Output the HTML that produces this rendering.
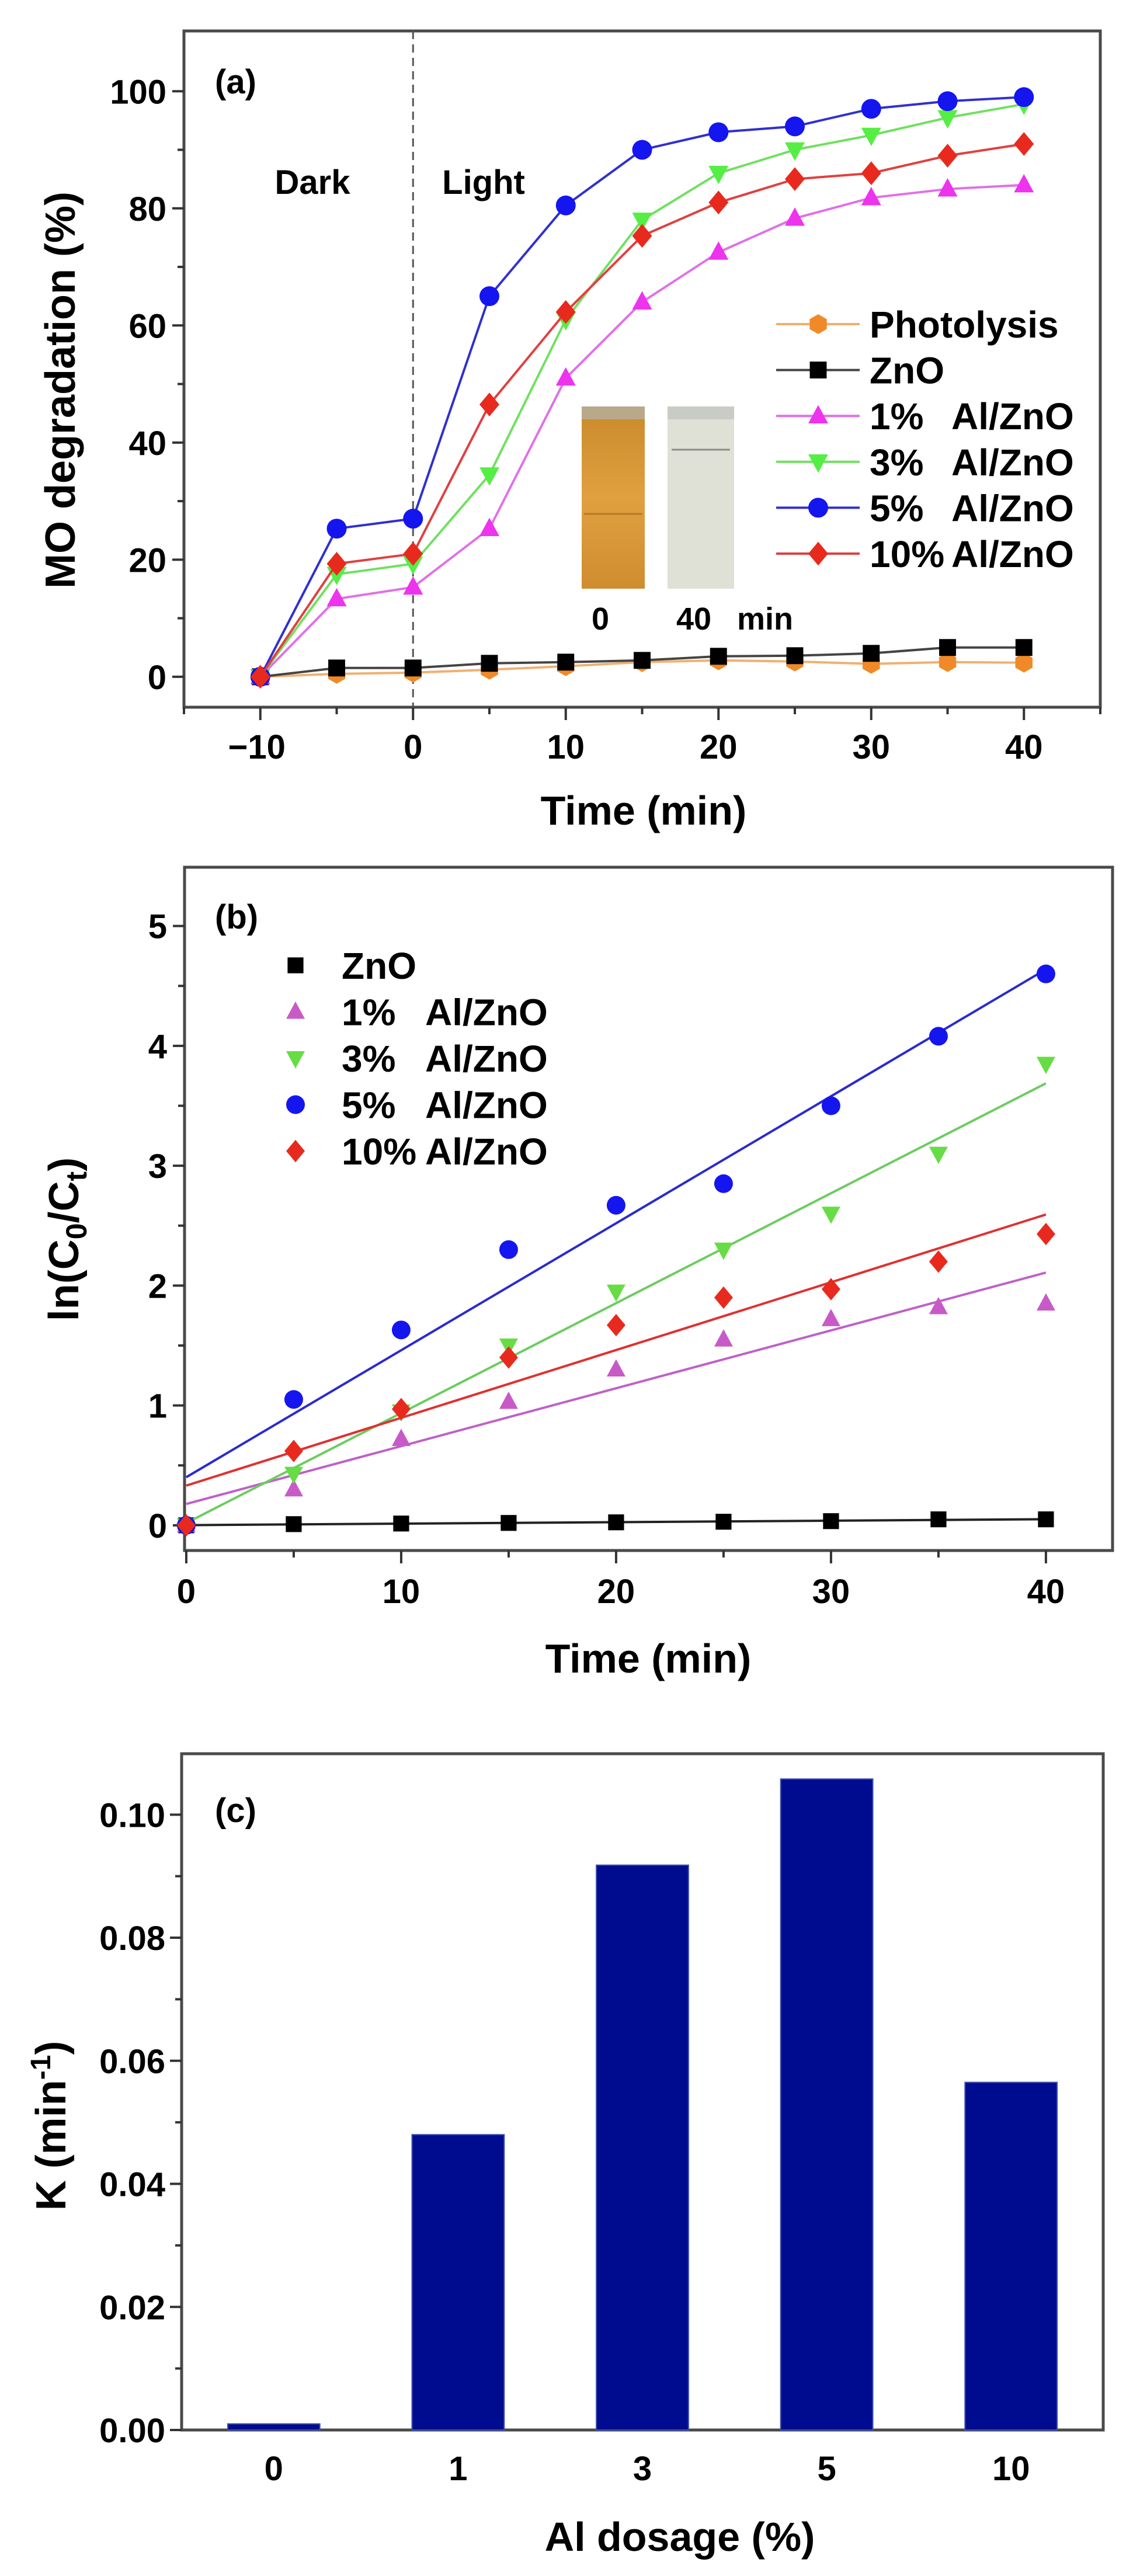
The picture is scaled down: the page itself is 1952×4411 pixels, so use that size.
<!DOCTYPE html>
<html><head><meta charset="utf-8"><title>Photocatalytic degradation</title>
<style>
html,body{margin:0;padding:0;background:#fff;}
svg{display:block;font-family:"Liberation Sans",Arial,sans-serif;font-weight:bold;}
</style></head>
<body>
<svg id="fig" width="1952" height="4411" viewBox="0 0 1952 4411" xmlns="http://www.w3.org/2000/svg">
<rect x="0" y="0" width="1952" height="4411" fill="#fff"/>
<g id="pa"></g>
<g id="pb"></g>
<g id="pc"></g>
</svg>
<script>
// ---------- Panel A data ----------
const timeA = [-10,-5,0,5,10,15,20,25,30,35,40];
const photolysisA = [0,0.5,0.7,1.2,1.8,2.5,2.8,2.6,2.2,2.5,2.4];
const znoA = [0,1.5,1.5,2.3,2.5,2.8,3.5,3.6,4.0,5.0,5.0];
const al1A = [0,13.3,15.3,25.3,51,64,72.5,78.3,81.8,83.3,84];
const al3A = [0,17.5,19.3,34.5,61,78,86,90,92.5,95.5,97.8];
const al5A = [0,25.3,27,65,80.5,90,93,94,97,98.3,99];
const al10A = [0,19.3,21,46.5,62.3,75.3,81,85,86,89,91];
const yTicksA = [0,20,40,60,80,100];
const xTicksA = [-10,0,10,20,30,40];
const seriesPctA = ["Photolysis","ZnO","1%","3%","5%","10%"];
const seriesSufA = ["","","Al/ZnO","Al/ZnO","Al/ZnO","Al/ZnO"];
// ---------- Panel B data ----------
const timeB = [0,5,10,15,20,25,30,35,40];
const znoB = [0,0.01,0.015,0.02,0.025,0.03,0.035,0.05,0.05];
const al1B = [0,0.3,0.72,1.03,1.3,1.55,1.72,1.82,1.85];
const al3B = [0,0.43,0.95,1.5,1.95,2.3,2.6,3.1,3.85];
const al5B = [0,1.05,1.63,2.3,2.67,2.85,3.5,4.08,4.6];
const al10B = [0,0.62,0.97,1.4,1.67,1.9,1.97,2.2,2.43];
const yTicksB = [0,1,2,3,4,5];
const xTicksB = [0,10,20,30,40];
const seriesPctB = ["ZnO","1%","3%","5%","10%"];
const seriesSufB = ["","Al/ZnO","Al/ZnO","Al/ZnO","Al/ZnO"];
// ---------- Panel C data ----------
const dosageC = ["0","1","3","5","10"];
const rateC = [0.001,0.048,0.0918,0.1058,0.0565];
const yTicksC = ["0.00","0.02","0.04","0.06","0.08","0.10"];

const NS="http://www.w3.org/2000/svg";
function mk(parent,tag,attrs,text){const e=document.createElementNS(NS,tag);for(const k in attrs)e.setAttribute(k,attrs[k]);if(text!==undefined)e.textContent=text;parent.appendChild(e);return e;}

function marker(g,shape,cx,cy,r,fill){
  let e;
  if(shape==="circle"){e=mk(g,"circle",{cx:cx,cy:cy,r:r,fill:fill});}
  else if(shape==="square"){e=mk(g,"rect",{x:cx-r*0.85,y:cy-r*0.85,width:r*1.7,height:r*1.7,fill:fill});}
  else if(shape==="up"){e=mk(g,"polygon",{points:`${cx},${cy-r*1.1} ${cx+r},${cy+r*0.75} ${cx-r},${cy+r*0.75}`,fill:fill});}
  else if(shape==="down"){e=mk(g,"polygon",{points:`${cx},${cy+r*1.1} ${cx+r},${cy-r*0.75} ${cx-r},${cy-r*0.75}`,fill:fill});}
  else if(shape==="diamond"){e=mk(g,"polygon",{points:`${cx},${cy-r*1.2} ${cx+r},${cy} ${cx},${cy+r*1.2} ${cx-r},${cy}`,fill:fill});}
  else if(shape==="hex"){let p=[];for(let i=0;i<6;i++){const a=Math.PI/6+i*Math.PI/3;p.push((cx+r*Math.cos(a)).toFixed(1)+","+(cy+r*Math.sin(a)).toFixed(1));}e=mk(g,"polygon",{points:p.join(" "),fill:fill});}
  return e;
}

function frame(g,L,T,R,B){
  const f=mk(g,"rect",{x:L,y:T,width:R-L,height:B-T,fill:"none",stroke:"#4a4a4a","stroke-width":5});
  
  
}

// ================= PANEL A =================
(function(){
  const g=document.getElementById("pa");
  const L=315,R=1884,T=53,B=1211;
  const xmin=-15,xmax=45,ymin=-5.2,ymax=110.3;
  const X=v=>L+(v-xmin)/(xmax-xmin)*(R-L);
  const Y=v=>B-(v-ymin)/(ymax-ymin)*(B-T);
  frame(g,L,T,R,B);
  for(let v=0;v<=100;v+=10){
    const major=yTicksA.includes(v);
    const t=mk(g,"line",{x1:L-(major?20:11),x2:L,y1:Y(v),y2:Y(v),stroke:"#333","stroke-width":4});
    
    
  }
  yTicksA.forEach(v=>{
    const t=mk(g,"text",{x:L-30,y:Y(v)+21,"text-anchor":"end","font-size":58},String(v));
    
    
  });
  for(let v=-15;v<=45;v+=5){
    const major=xTicksA.includes(v);
    const t=mk(g,"line",{x1:X(v),x2:X(v),y1:B,y2:B+(major?22:12),stroke:"#333","stroke-width":4});
    
    
  }
  xTicksA.forEach(v=>{
    const t=mk(g,"text",{x:X(v)+(v<0?-6:0),y:1299,"text-anchor":"middle","font-size":58},v<0?"\u2212"+Math.abs(v):String(v));
    
    
  });
  let t=mk(g,"text",{x:1102,y:1412,"text-anchor":"middle","font-size":70},"Time (min)");
  
  
  t=mk(g,"text",{x:0,y:0,"text-anchor":"middle","font-size":72,transform:"translate(128,668) rotate(-90)"},"MO degradation (%)");
  
  
  t=mk(g,"line",{x1:X(0),x2:X(0),y1:T,y2:B,stroke:"#555","stroke-width":3,"stroke-dasharray":"14,9"});
  
  
  t=mk(g,"text",{x:368,y:160,"font-size":58},"(a)");
  
  
  t=mk(g,"text",{x:535,y:332,"text-anchor":"middle","font-size":58},"Dark");
  
  
  t=mk(g,"text",{x:828,y:332,"text-anchor":"middle","font-size":58},"Light");
  
  
  const ins=mk(g,"g",{});
  
  
  const defs=mk(g,"defs",{});
  const gr=mk(defs,"linearGradient",{id:"orgr",x1:0,y1:0,x2:0,y2:1});
  mk(gr,"stop",{offset:"0","stop-color":"#c98a2c"});mk(gr,"stop",{offset:"0.5","stop-color":"#e0a040"});mk(gr,"stop",{offset:"1","stop-color":"#d08d30"});
  t=mk(ins,"rect",{x:996,y:696,width:108,height:312,fill:"url(#orgr)"});
  
  
  mk(ins,"rect",{x:996,y:696,width:108,height:22,fill:"#b9a98a"});
  mk(ins,"line",{x1:1000,x2:1100,y1:880,y2:880,stroke:"#b57a25","stroke-width":3});
  t=mk(ins,"rect",{x:1143,y:696,width:114,height:312,fill:"#dfe0d6"});
  
  
  mk(ins,"line",{x1:1150,x2:1250,y1:770,y2:770,stroke:"#8a8f86","stroke-width":3});
  mk(ins,"rect",{x:1143,y:696,width:114,height:22,fill:"#c9cbc5"});
  t=mk(g,"text",{x:1028,y:1078,"text-anchor":"middle","font-size":54},"0");
  
  
  t=mk(g,"text",{x:1158,y:1078,"font-size":54},"40");
  
  
  t=mk(g,"text",{x:1262,y:1078,"font-size":54},"min");
  
  
  const defsA=[
    {d:photolysisA,c:"#f08a28",lc:"#f0b070",s:"hex",n:"photolysis"},
    {d:znoA,c:"#000",lc:"#444",s:"square",n:"zno"},
    {d:al1A,c:"#ee33ee",lc:"#e070e8",s:"up",n:"al1"},
    {d:al3A,c:"#55ee44",lc:"#70e060",s:"down",n:"al3"},
    {d:al5A,c:"#1515f0",lc:"#3030d0",s:"circle",n:"al5"},
    {d:al10A,c:"#e82a1e",lc:"#e04040",s:"diamond",n:"al10"}
  ];
  defsA.forEach(sr=>{
    const sg=mk(g,"g",{});
    
    
    const pts=timeA.map((x,i)=>X(x).toFixed(1)+","+Y(sr.d[i]).toFixed(1)).join(" ");
    const pl=mk(sg,"polyline",{points:pts,fill:"none",stroke:sr.lc,"stroke-width":4});
    
    
    timeA.forEach((x,i)=>{
      const m=marker(sg,sr.s,X(x),Y(sr.d[i]),17,sr.c);
      
      
    });
  });
  const lg=mk(g,"g",{});
  
  
  defsA.forEach((sr,i)=>{
    const y=555+i*78.6;
    const e=mk(lg,"g",{});
    
    
    mk(e,"line",{x1:1329,x2:1472,y1:y,y2:y,stroke:sr.lc,"stroke-width":4});
    marker(e,sr.s,1401,y,17,sr.c);
    mk(e,"text",{x:1489,y:y+23,"font-size":64},seriesPctA[i]);
    if(seriesSufA[i]) mk(e,"text",{x:1629,y:y+23,"font-size":64},seriesSufA[i]);
  });
})();

// ================= PANEL B =================
(function(){
  const g=document.getElementById("pb");
  const L=316,R=1905,T=1485,B=2655;
  const xmin=-0.08,xmax=43.1,ymin=-0.21,ymax=5.49;
  const X=v=>L+(v-xmin)/(xmax-xmin)*(R-L);
  const Y=v=>B-(v-ymin)/(ymax-ymin)*(B-T);
  frame(g,L,T,R,B);
  for(let v=0;v<=5;v+=0.5){
    const major=Math.abs(v-Math.round(v))<1e-6;
    const t=mk(g,"line",{x1:L-(major?20:11),x2:L,y1:Y(v),y2:Y(v),stroke:"#333","stroke-width":4});
    
    
  }
  yTicksB.forEach(v=>{
    const t=mk(g,"text",{x:L-30,y:Y(v)+21,"text-anchor":"end","font-size":58},String(v));
    
    
  });
  for(let v=0;v<=40;v+=5){
    const major=xTicksB.includes(v);
    const t=mk(g,"line",{x1:X(v),x2:X(v),y1:B,y2:B+(major?22:12),stroke:"#333","stroke-width":4});
    
    
  }
  xTicksB.forEach(v=>{
    const t=mk(g,"text",{x:X(v),y:2745,"text-anchor":"middle","font-size":58},String(v));
    
    
  });
  let t=mk(g,"text",{x:1110,y:2864,"text-anchor":"middle","font-size":70},"Time (min)");
  
  
  t=mk(g,"text",{x:0,y:0,"text-anchor":"middle","font-size":72,transform:"translate(134,2122) rotate(-90)"});
  
  
  t.innerHTML='ln(C<tspan font-size="50" dy="14">0</tspan><tspan dy="-14">/C</tspan><tspan font-size="50" dy="14">t</tspan><tspan dy="-14">)</tspan>';
  t=mk(g,"text",{x:368,y:1590,"font-size":58},"(b)");
  
  
  const defsB=[
    {d:znoB,c:"#000",lc:"#222",s:"square",n:"zno"},
    {d:al1B,c:"#c85ac8",lc:"#c060c8",s:"up",n:"al1"},
    {d:al3B,c:"#66dd44",lc:"#6ccc60",s:"down",n:"al3"},
    {d:al5B,c:"#1515f0",lc:"#2a2ad0",s:"circle",n:"al5"},
    {d:al10B,c:"#e82a1e",lc:"#e03030",s:"diamond",n:"al10"}
  ];
  defsB.forEach(sr=>{
    const sg=mk(g,"g",{});
    
    
    const n=timeB.length;
    const mx=timeB.reduce((a,b)=>a+b,0)/n, my=sr.d.reduce((a,b)=>a+b,0)/n;
    let sxy=0,sxx=0;timeB.forEach((x,i)=>{sxy+=(x-mx)*(sr.d[i]-my);sxx+=(x-mx)*(x-mx);});
    const k=sxy/sxx,b0=my-k*mx;
    const x0=timeB[0],x1=timeB[n-1];
    const fl=mk(sg,"line",{x1:X(x0),y1:Y(b0+k*x0),x2:X(x1),y2:Y(b0+k*x1),stroke:sr.lc,"stroke-width":4});
    
    
    timeB.forEach((x,i)=>{
      const m=marker(sg,sr.s,X(x),Y(sr.d[i]),16,sr.c);
      
      
    });
  });
  const lg=mk(g,"g",{});
  
  
  defsB.forEach((sr,i)=>{
    const y=1653+i*79.5;
    const e=mk(lg,"g",{});
    
    
    marker(e,sr.s,506,y,16,sr.c);
    mk(e,"text",{x:585,y:y+23,"font-size":64},seriesPctB[i]);
    if(seriesSufB[i]) mk(e,"text",{x:728,y:y+23,"font-size":64},seriesSufB[i]);
  });
})();

// ================= PANEL C =================
(function(){
  const g=document.getElementById("pc");
  const L=311,R=1889,T=3003,B=4161;
  const ymin=0,ymax=0.1099;
  const n=dosageC.length;
  const X=i=>L+(i+0.5)/n*(R-L);
  const Y=v=>B-(v-ymin)/(ymax-ymin)*(B-T);
  const bw=(R-L)/n*0.5;
  frame(g,L,T,R,B);
  for(let k=0;k<=10;k++){
    const v=k*0.01,major=k%2===0;
    const t=mk(g,"line",{x1:L-(major?20:11),x2:L,y1:Y(v),y2:Y(v),stroke:"#333","stroke-width":4});
    
    
  }
  yTicksC.forEach(s=>{
    const t=mk(g,"text",{x:L-28,y:Y(parseFloat(s))+21,"text-anchor":"end","font-size":58},s);
    
    
  });
  dosageC.forEach((c,i)=>{
    const b=mk(g,"rect",{x:X(i)-bw/2,y:Y(rateC[i]),width:bw,height:B-Y(rateC[i]),fill:"#000c90",stroke:"#4050b0","stroke-width":2});
    
    
    const t=mk(g,"text",{x:X(i),y:4247,"text-anchor":"middle","font-size":58},c);
    
    
  });
  let t=mk(g,"text",{x:1164,y:4368,"text-anchor":"middle","font-size":70},"Al dosage (%)");
  
  
  t=mk(g,"text",{x:0,y:0,"text-anchor":"middle","font-size":72,transform:"translate(112,3640) rotate(-90)"});
  
  
  t.innerHTML='K (min<tspan font-size="48" dy="-26">-1</tspan><tspan dy="26">)</tspan>';
  t=mk(g,"text",{x:368,y:3120,"font-size":58},"(c)");
  
  
})();
</script>
</body></html>
